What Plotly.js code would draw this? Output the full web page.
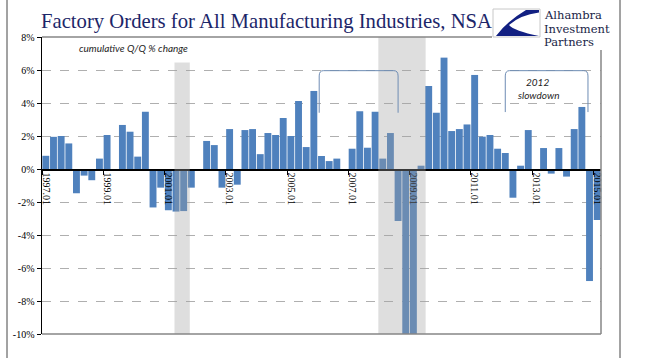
<!DOCTYPE html>
<html>
<head>
<meta charset="utf-8">
<script src="https://cdn.plot.ly/plotly-3.0.1.min.js"></script>
<style>html,body{margin:0;padding:0;background:#fff;}#chart{width:649px;height:358px;}</style>
</head>
<body>
<div id="chart"></div>
<script>
// Quarterly categories 1997.01 .. 2015.01
const categories = [];
for (let y = 1997; y <= 2015; y++) {
  for (const m of ['01', '04', '07', '10']) categories.push(y + '.' + m);
}
categories.length = 73;

// Cumulative Q/Q % change (two 2008/09 bars clipped at -10%)
const qoqChange = [
  0.8, 1.95, 2.0, 1.55, -1.47, -0.4, -0.68, 0.63,
  2.06, -0.07, 2.67, 2.26, 0.75, 3.47, -2.33, -1.13,
  -2.5, -2.58, -2.55, -1.13, -0.07, 1.7, 1.45, -1.13,
  2.42, -0.95, 2.36, 2.42, 0.9, 2.18, 2.06, 3.09,
  2.0, 4.12, 1.33, 4.73, 0.79, 0.48, 0.63, 0.0,
  1.23, 3.5, 1.29, 3.47, 0.63, 2.18, -3.15, -10.0,
  -10.0, 0.2, 5.03, 3.41, 6.75, 2.3, 2.42, 2.7,
  5.7, 1.96, 2.06, 1.23, 0.97, -1.74, 0.2, 2.36,
  0.0, 1.27, -0.28, 1.27, -0.46, 2.42, 3.76, -6.79,
  -3.09
];

const labelEvery = 8;
const yTicks = [-10, -8, -6, -4, -2, 0, 2, 4, 6, 8];
const yTickLabels = yTicks.map(v => v + '%');

// ---- layout helpers (pixel -> paper) ----
const L = 42, R = 601, T = 37, B = 334, W = 649, H = 358;
const px = v => (v - L) / (R - L);
const py = v => (B - v) / (B - T);
const pathPx = pts => pts.map((p, i) => {
  if (p[0] === 'Q') return 'Q ' + px(p[1]) + ',' + py(p[2]) + ' ' + px(p[3]) + ',' + py(p[4]);
  return (i === 0 ? 'M ' : 'L ') + px(p[0]) + ',' + py(p[1]);
}).join(' ') + ' Z';

const xIdx = categories.map((c, i) => i);
const tickVals = xIdx.filter(i => i % labelEvery === 0);
const tickText = tickVals.map(i => categories[i]);
const edgeTicks = tickVals.map(i => i - 0.5);

const barColor = 'rgb(79,129,189)';
const bracketColor = 'rgb(110,140,180)';
const grayLine = 'rgb(134,134,134)';

const trace = {
  type: 'bar',
  x: xIdx,
  y: qoqChange,
  marker: {color: barColor},
  hoverinfo: 'skip'
};

function bracket(x0, x1, yb, yt) {
  const dx = 0.55, dy = 0.32;
  return {
    type: 'path', xref: 'x', yref: 'y', layer: 'above',
    path: 'M ' + x0 + ',' + yb + ' L ' + x0 + ',' + (yt - dy) +
          ' Q ' + x0 + ',' + yt + ' ' + (x0 + dx) + ',' + yt +
          ' L ' + (x1 - dx) + ',' + yt +
          ' Q ' + x1 + ',' + yt + ' ' + x1 + ',' + (yt - dy) +
          ' L ' + x1 + ',' + yb,
    line: {color: bracketColor, width: 1}
  };
}

const shapes = [
  // recession shading
  {type: 'rect', xref: 'x', yref: 'y', x0: 16.8, x1: 18.8, y0: -10, y1: 6.45,
   fillcolor: 'rgb(161,161,161)', opacity: 0.35, line: {width: 0}, layer: 'above'},
  {type: 'rect', xref: 'x', yref: 'y', x0: 43.42, x1: 49.6, y0: -10, y1: 8,
   fillcolor: 'rgb(161,161,161)', opacity: 0.35, line: {width: 0}, layer: 'above'},
  // brackets
  bracket(35.7, 46.0, 3.41, 5.96),
  bracket(60.0, 70.8, 3.45, 5.96),
  // plot border (gray)
  {type: 'line', xref: 'paper', yref: 'paper', x0: 0, x1: px(492), y0: 1, y1: 1,
   line: {color: grayLine, width: 1.5}, layer: 'above'},
  {type: 'line', xref: 'paper', yref: 'paper', x0: 1, x1: 1, y0: py(50), y1: 0,
   line: {color: grayLine, width: 1.5}, layer: 'above'},
  {type: 'line', xref: 'paper', yref: 'paper', x0: 0, x1: 1, y0: 0, y1: 0,
   line: {color: grayLine, width: 1.5}, layer: 'above'},
  // outer frame lines
  {type: 'line', xref: 'paper', yref: 'paper', x0: px(7), x1: px(7), y0: py(0), y1: py(358),
   line: {color: 'rgb(70,70,70)', width: 1}, layer: 'above'},
  {type: 'line', xref: 'paper', yref: 'paper', x0: px(620), x1: px(620), y0: py(0), y1: py(358),
   line: {color: 'rgb(70,70,70)', width: 1}, layer: 'above'},
  // logo box
  {type: 'rect', xref: 'paper', yref: 'paper', x0: px(493), x1: px(540), y0: py(37), y1: py(9),
   fillcolor: 'white', line: {color: 'rgb(200,200,200)', width: 1}, layer: 'above'},
  // logo mark
  {type: 'path', xref: 'paper', yref: 'paper', layer: 'above',
   path: pathPx([[539, 10], [526, 10], ['Q', 506, 22, 496, 36], [539, 36],
                 ['Q', 514, 31, 509, 25], ['Q', 520, 15, 539, 12.5]]),
   fillcolor: 'rgb(18,32,130)', line: {width: 0}}
];

const serif = 'Liberation Serif, Times New Roman, serif';
const annFont = {family: 'Lato, Open Sans, sans-serif', size: 10, color: 'rgb(30,30,30)'};
const logoFont = {family: 'DejaVu Serif, serif', size: 11.5, color: 'rgb(25,30,70)'};

const annotations = [
  {text: 'Factory Orders for All Manufacturing Industries, NSA', xref: 'paper', yref: 'paper',
   x: px(39), y: py(22), xanchor: 'left', yanchor: 'middle', showarrow: false,
   font: {family: serif, size: 20.7, color: 'rgb(28,38,105)'}},
  {text: '<i>cumulative Q/Q % change</i>', xref: 'paper', yref: 'paper',
   x: px(77), y: py(48), xanchor: 'left', yanchor: 'middle', showarrow: false, font: annFont},
  {text: '<i>2012</i>', xref: 'paper', yref: 'paper',
   x: px(537), y: py(82), xanchor: 'center', yanchor: 'middle', showarrow: false, font: annFont},
  {text: '<i>slowdown</i>', xref: 'paper', yref: 'paper',
   x: px(538), y: py(95), xanchor: 'center', yanchor: 'middle', showarrow: false, font: annFont},
  {text: 'Alhambra', xref: 'paper', yref: 'paper', x: px(542), y: py(15),
   xanchor: 'left', yanchor: 'middle', showarrow: false, font: logoFont},
  {text: 'Investment', xref: 'paper', yref: 'paper', x: px(542), y: py(28.5),
   xanchor: 'left', yanchor: 'middle', showarrow: false, font: logoFont},
  {text: 'Partners', xref: 'paper', yref: 'paper', x: px(542), y: py(42),
   xanchor: 'left', yanchor: 'middle', showarrow: false, font: logoFont}
];

const layout = {
  width: W, height: H,
  margin: {l: L, r: W - R, t: T, b: H - B, pad: 0},
  paper_bgcolor: 'white', plot_bgcolor: 'white',
  showlegend: false,
  bargap: 0.1,
  xaxis: {
    range: [-0.5, 72.5],
    anchor: 'free', position: 10 / 18,
    tickmode: 'array', tickvals: tickVals, ticktext: tickText,
    ticks: '', tickangle: 90,
    tickfont: {family: serif, size: 10, color: 'black'},
    showline: true, linecolor: 'black', linewidth: 1.5,
    showgrid: false, zeroline: false,
    minor: {tickmode: 'array', tickvals: edgeTicks, ticks: 'outside', ticklen: 4,
            tickcolor: 'black', tickwidth: 1, showgrid: false},
    fixedrange: true
  },
  yaxis: {
    range: [-10, 8],
    tickmode: 'array', tickvals: yTicks, ticktext: yTickLabels,
    ticks: 'outside', ticklen: 4, tickcolor: 'black', tickwidth: 1,
    tickfont: {family: serif, size: 10, color: 'black'},
    showline: true, linecolor: 'black', linewidth: 1.5,
    showgrid: true, gridcolor: 'rgb(175,175,175)', griddash: 'dash', gridwidth: 1,
    zeroline: false,
    fixedrange: true
  },
  shapes: shapes,
  annotations: annotations
};

Plotly.newPlot('chart', [trace], layout, {displayModeBar: false, staticPlot: true});
</script>
</body>
</html>
